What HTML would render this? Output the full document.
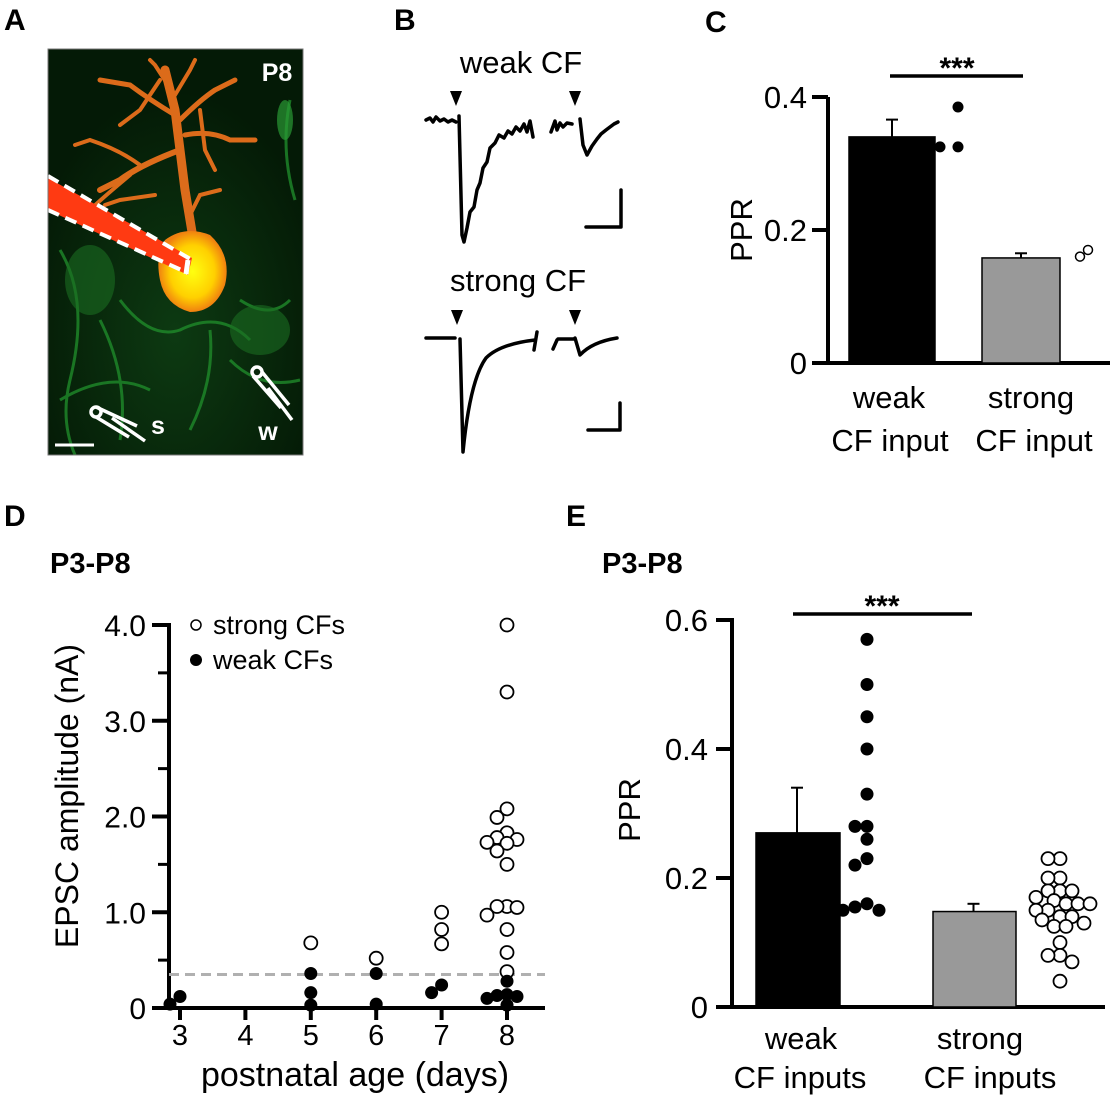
<!DOCTYPE html>
<html><head><meta charset="utf-8"><style>
html,body{margin:0;padding:0;background:#fff;}
svg{display:block;font-family:"Liberation Sans",Arial,sans-serif;}
</style></head><body>
<svg id="fig" width="1116" height="1099" viewBox="0 0 1116 1099">
<defs>
<radialGradient id="soma" cx="0.5" cy="0.5" r="0.5"><stop offset="0" stop-color="#ffff10"/><stop offset="0.65" stop-color="#ffd000"/><stop offset="1" stop-color="#f08010"/></radialGradient>
<radialGradient id="bgglow" cx="0.5" cy="0.7" r="0.6"><stop offset="0" stop-color="#0d3a12"/><stop offset="1" stop-color="#041a06"/></radialGradient>
<clipPath id="imgclip"><rect x="48" y="49" width="255" height="406"/></clipPath>
</defs>

<text x="4" y="30" font-size="30" font-weight="bold">A</text>
<text x="394" y="30" font-size="30" font-weight="bold">B</text>
<text x="705" y="32" font-size="30" font-weight="bold">C</text>
<text x="4" y="526" font-size="30" font-weight="bold">D</text>
<text x="566" y="526" font-size="30" font-weight="bold">E</text>

<g clip-path="url(#imgclip)">
<rect x="48" y="49" width="255" height="406" fill="url(#bgglow)"/>
<g stroke="#1f8a2a" stroke-width="3" fill="none" opacity="0.8">
<path d="M60 250 Q90 300 70 380 Q60 420 75 455"/>
<path d="M120 300 Q150 340 180 330 Q220 310 250 340"/>
<path d="M210 330 Q215 380 190 430"/>
<path d="M100 320 Q130 380 120 440"/>
<path d="M240 300 Q270 320 290 300"/>
<path d="M290 100 Q280 150 295 200"/>
<path d="M60 400 Q110 370 150 390"/>
<path d="M230 360 Q260 390 300 380"/>
</g>
<ellipse cx="285" cy="120" rx="8" ry="20" fill="#2a9a35" opacity="0.7"/>
<ellipse cx="90" cy="280" rx="25" ry="35" fill="#1a6d22" opacity="0.6"/>
<ellipse cx="260" cy="330" rx="30" ry="25" fill="#1a6d22" opacity="0.6"/>
<g stroke="#e8701c" stroke-linecap="round" fill="none" opacity="0.95">
<path d="M195 250 L185 190 L180 150 L175 110 L165 70" stroke-width="9"/>
<path d="M180 150 Q140 165 120 180 L100 190" stroke-width="6"/>
<path d="M175 115 Q150 100 130 85 L100 80" stroke-width="5"/>
<path d="M180 120 Q200 100 215 90 L235 80" stroke-width="5"/>
<path d="M185 135 Q210 130 230 140 L255 140" stroke-width="5"/>
<path d="M168 85 L155 65 L150 60" stroke-width="4"/>
<path d="M175 95 L190 70 L195 60" stroke-width="4"/>
<path d="M140 165 Q120 150 90 140 L75 145" stroke-width="4"/>
<path d="M130 175 Q100 200 90 210" stroke-width="4"/>
<path d="M200 110 L205 150 L215 170" stroke-width="4"/>
<path d="M160 80 L140 110 L120 125" stroke-width="4"/>
<path d="M190 215 L200 195 L220 190" stroke-width="4"/>
<path d="M155 195 L120 200 L105 205" stroke-width="4"/>
</g>
<path d="M165 240 Q185 225 210 235 Q232 255 225 285 Q215 312 190 312 Q165 305 160 280 Q155 255 165 240Z" fill="url(#soma)"/>
<polygon points="48,178 192,258 188,275 48,210" fill="#ff3a12"/>
<line x1="48" y1="176" x2="192" y2="260" stroke="#fff" stroke-width="4" stroke-dasharray="12,7"/>
<line x1="48" y1="210" x2="188" y2="273" stroke="#fff" stroke-width="4" stroke-dasharray="12,7"/>
<line x1="188" y1="260" x2="186" y2="274" stroke="#fff" stroke-width="5"/>
</g>
<rect x="48" y="49" width="255" height="406" fill="none" stroke="#777" stroke-width="1"/>
<text x="277" y="81" font-size="25" font-weight="bold" fill="#fff" text-anchor="middle">P8</text>
<g stroke="#fff" stroke-width="3.5" fill="none">
<circle cx="96" cy="412" r="5"/><line x1="96" y1="407" x2="137" y2="426"/><line x1="96" y1="417" x2="129" y2="437"/><line x1="112" y1="418" x2="145" y2="441"/>
</g>
<g stroke="#fff" stroke-width="3.5" fill="none">
<circle cx="257" cy="372" r="5"/><line x1="262" y1="372" x2="289" y2="405"/><line x1="253" y1="376" x2="281" y2="408"/><line x1="268" y1="388" x2="292" y2="420"/>
</g>
<text x="158" y="434" font-size="25" font-weight="bold" fill="#fff" text-anchor="middle">s</text>
<text x="268" y="440" font-size="25" font-weight="bold" fill="#fff" text-anchor="middle">w</text>
<line x1="55" y1="445" x2="94" y2="445" stroke="#fff" stroke-width="3"/>

<g fill="none" stroke="#000" stroke-width="3.5" stroke-linejoin="round" stroke-linecap="round">
<text x="521" y="73" font-size="31" text-anchor="middle" stroke="none" fill="#000">weak CF</text>
<path d="M426 120 L430 118 L433 122 L436 117 L440 121 L444 119 L448 122 L452 120 L456 122 M459 116 L462 235 L464 242 L467 228 L470 212 L474 207 L477 190 L480 183 L483 168 L487 162 L490 148 L495 143 L499 135 L504 138 L508 131 L512 134 L516 127 L520 131 L524 124 L527 132 L530 121 L533 137"/>
<path d="M551 132 L555 121 L557 130 L560 123 L563 127 L567 123 L572 124 M580 119 L583 145 L587 155 L592 146 L597 139 L601 134 L606 130 L610 127 L614 124 L618 122"/>
<polygon points="450,91 462,91 456,106" fill="#000" stroke="none"/>
<polygon points="569,91 581,91 575,106" fill="#000" stroke="none"/>
<path d="M621 190 L621 227 L586 227"/>
<text x="518" y="291" font-size="31" text-anchor="middle" stroke="none" fill="#000">strong CF</text>
<path d="M426 338 L455 338 M460 339 L463 452 Q470 380 486 358 Q500 344 535 340 M537 332 L534 350"/>
<path d="M553 349 L557 340 M558 339 L574 339 M575 338 L580 355 Q592 342 617 338"/>
<polygon points="451,310 463,310 457,325" fill="#000" stroke="none"/>
<polygon points="569,310 581,310 575,325" fill="#000" stroke="none"/>
<path d="M620 403 L620 430 L588 430"/>
</g>

<g id="panelC"></g>
<g id="panelD"></g>
<g id="panelE"></g>
</svg>
<script>
// ---- Panel C data ----
const cCategories = ["weak CF input", "strong CF input"];
const cMeans = [0.34, 0.158];
const cErr = [0.026, 0.007];
const cWeakDots = [0.385, 0.325, 0.325];
const cStrongDots = [0.17, 0.16];
const cTicks = [0, 0.2, 0.4];
const cTickLabels = ["0", "0.2", "0.4"];
// ---- Panel D data ----
const dDays = [3, 4, 5, 6, 7, 8];
const dYTicks = [0, 1, 2, 3, 4];
const dYTickLabels = ["0", "1.0", "2.0", "3.0", "4.0"];
const dStrongDay = [5, 6, 7, 7, 7, 8, 8, 8, 8, 8, 8, 8, 8, 8, 8, 8, 8, 8, 8, 8, 8, 8, 8];
const dStrongVal = [0.68, 0.52, 1.0, 0.82, 0.67, 4.0, 3.3, 2.08, 1.99, 1.83, 1.78, 1.76, 1.73, 1.72, 1.64, 1.5, 1.06, 1.05, 1.06, 0.97, 0.82, 0.58, 0.38];
const dWeakDay = [3, 3, 5, 5, 5, 6, 6, 7, 7, 8, 8, 8, 8, 8, 8];
const dWeakVal = [0.04, 0.12, 0.36, 0.16, 0.03, 0.36, 0.04, 0.16, 0.24, 0.28, 0.14, 0.12, 0.13, 0.1, 0.03];
const dThreshold = 0.35;
// ---- Panel E data ----
const eMeans = [0.27, 0.148];
const eErr = [0.07, 0.012];
const eWeakDots = [0.57, 0.50, 0.45, 0.40, 0.33, 0.28, 0.28, 0.26, 0.23, 0.22, 0.16, 0.155, 0.15, 0.15];
const eStrongDots = [0.23, 0.23, 0.20, 0.20, 0.18, 0.18, 0.18, 0.17, 0.165, 0.16, 0.16, 0.16, 0.15, 0.15, 0.14, 0.14, 0.135, 0.13, 0.125, 0.125, 0.10, 0.08, 0.08, 0.07, 0.04];
const eTicks = [0, 0.2, 0.4, 0.6];
const eTickLabels = ["0", "0.2", "0.4", "0.6"];

const NS = "http://www.w3.org/2000/svg";
function mk(parent, tag, attrs, text) {
  const e = document.createElementNS(NS, tag);
  for (const k in attrs) e.setAttribute(k, attrs[k]);
  if (text !== undefined) e.textContent = text;
  parent.appendChild(e);
  return e;
}
// compact dodge: small steps, permits slight overlap
function dodge(vals, yfn, step, minD) {
  const placed = [];
  const offs = new Array(vals.length).fill(0);
  const order = vals.map((v, i) => i).sort((a, b) => vals[b] - vals[a]);
  for (const i of order) {
    const yy = yfn(vals[i]);
    const cands = [0];
    for (let k = 1; k < 20; k++) { cands.push(-k * step); cands.push(k * step); }
    for (const c of cands) {
      let ok = true;
      for (const p of placed) {
        const dx = p.x - c, dy = p.y - yy;
        if (dx * dx + dy * dy < minD * minD) { ok = false; break; }
      }
      if (ok) { offs[i] = c; placed.push({ x: c, y: yy }); break; }
    }
  }
  return offs;
}

// ===== Panel C =====
(function () {
  const g = document.getElementById('panelC');
  const y0 = 363, yTop = 97, vMax = 0.4;
  const y = v => y0 - v / vMax * (y0 - yTop);
  const ax = 828;
  let e = mk(g, 'line', { x1: ax, y1: yTop, x2: ax, y2: y0, stroke: '#000', 'stroke-width': 4 });
   
  e = mk(g, 'line', { x1: 812, y1: y0, x2: 1110, y2: y0, stroke: '#000', 'stroke-width': 4 });
   
  cTicks.forEach((t, i) => {
    e = mk(g, 'line', { x1: 812, y1: y(t), x2: ax, y2: y(t), stroke: '#000', 'stroke-width': 4 });
     
    e = mk(g, 'text', { x: 807, y: y(t) + 11, 'font-size': 31, 'text-anchor': 'end' }, cTickLabels[i]);
     
  });
  e = mk(g, 'text', { x: 0, y: 0, 'font-size': 31, 'text-anchor': 'middle', transform: 'translate(752,230) rotate(-90)' }, 'PPR');
   
  const bx = [849, 982], bw = [86, 78], fills = ['#000', '#999'];
  const lx1 = [889, 1031], lx2 = [890, 1034];
  cMeans.forEach((m, i) => {
    const cx = bx[i] + bw[i] / 2;
    e = mk(g, 'line', { x1: cx, y1: y(m), x2: cx, y2: y(m + cErr[i]), stroke: '#000', 'stroke-width': 2 });
     
    e = mk(g, 'line', { x1: cx - 6, y1: y(m + cErr[i]), x2: cx + 6, y2: y(m + cErr[i]), stroke: '#000', 'stroke-width': 2 });
     
    e = mk(g, 'rect', { x: bx[i], y: y(m), width: bw[i], height: y0 - y(m), fill: fills[i], stroke: '#000', 'stroke-width': 1.5 });
     
    const words = cCategories[i].split(' ');
    e = mk(g, 'text', { x: lx1[i], y: 408, 'font-size': 31, 'text-anchor': 'middle' }, words[0]);
     
    e = mk(g, 'text', { x: lx2[i], y: 451, 'font-size': 31, 'text-anchor': 'middle' }, words.slice(1).join(' '));
     
  });
  const wo = dodge(cWeakDots, y, 9, 10);
  cWeakDots.forEach((v, i) => {
    e = mk(g, 'circle', { cx: 958 + wo[i], cy: y(v), r: 5.5, fill: '#000' });
     
  });
  const so = dodge(cStrongDots, y, 8, 9);
  cStrongDots.forEach((v, i) => {
    e = mk(g, 'circle', { cx: 1088 + so[i], cy: y(v), r: 4.5, fill: '#fff', stroke: '#000', 'stroke-width': 1.5 });
     
  });
  e = mk(g, 'line', { x1: 890, y1: 76, x2: 1023, y2: 76, stroke: '#000', 'stroke-width': 3.5 });
   
  e = mk(g, 'text', { x: 957, y: 78, 'font-size': 30, 'font-weight': 'bold', 'text-anchor': 'middle' }, '***');
   
})();

// ===== Panel D =====
(function () {
  const g = document.getElementById('panelD');
  const y0 = 1008, yTop = 625, vMax = 4;
  const y = v => y0 - v / vMax * (y0 - yTop);
  const x = d => 180 + (d - 3) * 65.4;
  const ax = 169;
  let e = mk(g, 'text', { x: 50, y: 573, 'font-size': 29, 'font-weight': 'bold' }, 'P3-P8');
   
  e = mk(g, 'line', { x1: ax, y1: yTop - 2, x2: ax, y2: y0, stroke: '#000', 'stroke-width': 4 });
   
  e = mk(g, 'line', { x1: 152, y1: y0, x2: 545, y2: y0, stroke: '#000', 'stroke-width': 4 });
   
  for (let v = 0.5; v < 4; v += 1) {
    e = mk(g, 'line', { x1: 158, y1: y(v), x2: ax, y2: y(v), stroke: '#000', 'stroke-width': 3 });
     
  }
  dYTicks.forEach((t, i) => {
    e = mk(g, 'line', { x1: 152, y1: y(t), x2: ax, y2: y(t), stroke: '#000', 'stroke-width': 4 });
     
    e = mk(g, 'text', { x: 146, y: y(t) + 11, 'font-size': 30, 'text-anchor': 'end' }, dYTickLabels[i]);
     
  });
  dDays.forEach(d => {
    e = mk(g, 'line', { x1: x(d), y1: y0, x2: x(d), y2: y0 + 12, stroke: '#000', 'stroke-width': 4 });
     
    e = mk(g, 'text', { x: x(d), y: 1045, 'font-size': 29, 'text-anchor': 'middle' }, String(d));
     
  });
  e = mk(g, 'text', { x: 355, y: 1086, 'font-size': 34, 'text-anchor': 'middle' }, 'postnatal age (days)');
   
  e = mk(g, 'text', { x: 0, y: 0, 'font-size': 32, 'text-anchor': 'middle', transform: 'translate(78,796) rotate(-90)' }, 'EPSC amplitude (nA)');
   
  e = mk(g, 'line', { x1: ax, y1: y(dThreshold), x2: 545, y2: y(dThreshold), stroke: '#b0b0b0', 'stroke-width': 3, 'stroke-dasharray': '10,6' });
   
  dDays.forEach(d => {
    const sv = dStrongVal.filter((v, i) => dStrongDay[i] === d);
    const so = dodge(sv, y, 5, 10);
    sv.forEach((v, i) => {
      e = mk(g, 'circle', { cx: x(d) + so[i], cy: y(v), r: 6.5, fill: '#fff', stroke: '#000', 'stroke-width': 1.8 });
       
    });
    const wv = dWeakVal.filter((v, i) => dWeakDay[i] === d);
    const wo = dodge(wv, y, 5, 10);
    wv.forEach((v, i) => {
      e = mk(g, 'circle', { cx: x(d) + wo[i], cy: y(v), r: 6.5, fill: '#000' });
       
    });
  });
  e = mk(g, 'circle', { cx: 196, cy: 625, r: 5, fill: '#fff', stroke: '#000', 'stroke-width': 1.5 });
   
  e = mk(g, 'text', { x: 213, y: 634, 'font-size': 27 }, 'strong CFs');
   
  e = mk(g, 'circle', { cx: 196, cy: 660, r: 6, fill: '#000' });
   
  e = mk(g, 'text', { x: 213, y: 669, 'font-size': 27 }, 'weak CFs');
   
})();

// ===== Panel E =====
(function () {
  const g = document.getElementById('panelE');
  const y0 = 1007, yTop = 620, vMax = 0.6;
  const y = v => y0 - v / vMax * (y0 - yTop);
  const ax = 732;
  let e = mk(g, 'text', { x: 602, y: 573, 'font-size': 29, 'font-weight': 'bold' }, 'P3-P8');
   
  e = mk(g, 'line', { x1: ax, y1: yTop - 2, x2: ax, y2: y0, stroke: '#000', 'stroke-width': 4 });
   
  e = mk(g, 'line', { x1: 716, y1: y0, x2: 1105, y2: y0, stroke: '#000', 'stroke-width': 4 });
   
  eTicks.forEach((t, i) => {
    e = mk(g, 'line', { x1: 716, y1: y(t), x2: ax, y2: y(t), stroke: '#000', 'stroke-width': 4 });
     
    e = mk(g, 'text', { x: 708, y: y(t) + 11, 'font-size': 31, 'text-anchor': 'end' }, eTickLabels[i]);
     
  });
  e = mk(g, 'text', { x: 0, y: 0, 'font-size': 31, 'text-anchor': 'middle', transform: 'translate(640,810) rotate(-90)' }, 'PPR');
   
  const bx = [756, 933], bw = [84, 83], fills = ['#000', '#999'];
  const labs = [['weak', 'CF inputs'], ['strong', 'CF inputs']];
  eMeans.forEach((m, i) => {
    const cx = bx[i] + bw[i] / 2;
    e = mk(g, 'line', { x1: cx - 1, y1: y(m), x2: cx - 1, y2: y(m + eErr[i]), stroke: '#000', 'stroke-width': 2 });
     
    e = mk(g, 'line', { x1: cx - 7, y1: y(m + eErr[i]), x2: cx + 5, y2: y(m + eErr[i]), stroke: '#000', 'stroke-width': 2 });
     
    e = mk(g, 'rect', { x: bx[i], y: y(m), width: bw[i], height: y0 - y(m), fill: fills[i], stroke: '#000', 'stroke-width': 1.5 });
     
    e = mk(g, 'text', { x: i ? 980 : 801, y: 1049, 'font-size': 31, 'text-anchor': 'middle' }, labs[i][0]);
     
    e = mk(g, 'text', { x: i ? 990 : 800, y: 1088, 'font-size': 31, 'text-anchor': 'middle' }, labs[i][1]);
     
  });
  const wo = dodge(eWeakDots, y, 6, 11);
  eWeakDots.forEach((v, i) => {
    e = mk(g, 'circle', { cx: 867 + wo[i], cy: y(v), r: 6.5, fill: '#000' });
     
  });
  const so = dodge(eStrongDots, y, 6, 11);
  eStrongDots.forEach((v, i) => {
    e = mk(g, 'circle', { cx: 1060 + so[i], cy: y(v), r: 6.5, fill: '#fff', stroke: '#000', 'stroke-width': 1.8 });
     
  });
  e = mk(g, 'line', { x1: 793, y1: 614, x2: 972, y2: 614, stroke: '#000', 'stroke-width': 3.5 });
   
  e = mk(g, 'text', { x: 882, y: 616, 'font-size': 30, 'font-weight': 'bold', 'text-anchor': 'middle' }, '***');
   
})();
</script>
</body></html>
